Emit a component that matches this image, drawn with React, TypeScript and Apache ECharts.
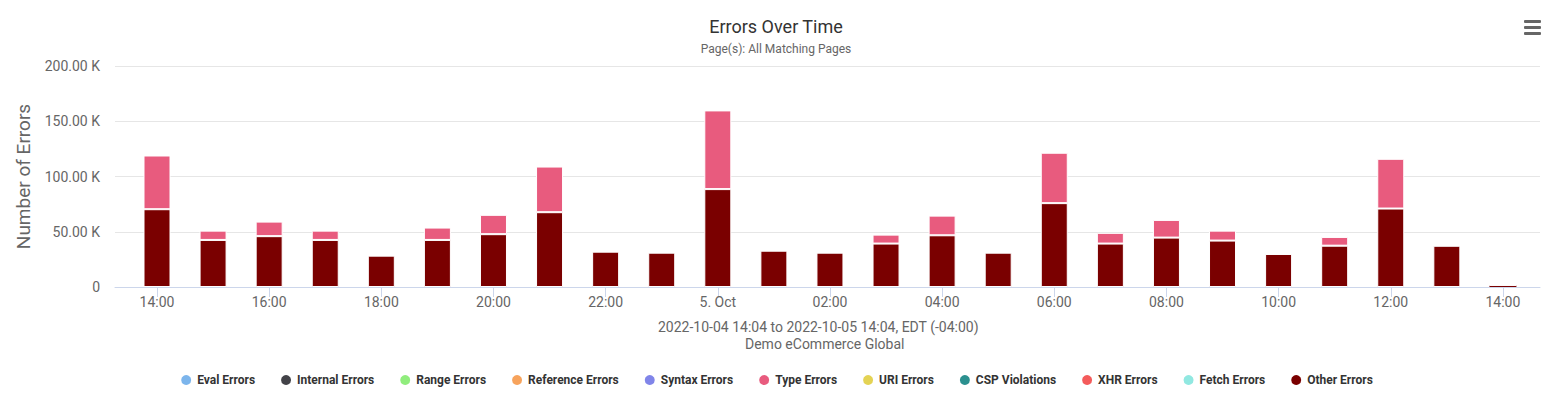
import React, { useEffect, useRef } from "react";
import * as echarts from "echarts";

const hours = [
  "14:00", "15:00", "16:00", "17:00", "18:00", "19:00", "20:00", "21:00", "22:00", "23:00",
  "00:00", "01:00", "02:00", "03:00", "04:00", "05:00", "06:00", "07:00", "08:00", "09:00",
  "10:00", "11:00", "12:00", "13:00", "14:00",
];
const otherErrors = [
  70400, 42600, 46000, 42600, 28400, 42600, 47800, 67700, 32000, 31100,
  88600, 32900, 31100, 39300, 46800, 31100, 75900, 39300, 44700, 42000,
  29900, 37400, 71000, 37400, 1500,
];
const typeErrors = [
  48600, 8400, 13200, 8400, 0, 11200, 17500, 41300, 0, 0,
  71200, 0, 0, 8100, 17800, 0, 45600, 9700, 16000, 9000,
  0, 7900, 45000, 0, 0,
];
const tickLabels = ["14:00", "16:00", "18:00", "20:00", "22:00", "5. Oct", "02:00", "04:00", "06:00", "08:00", "10:00", "12:00", "14:00"];
const legendNames = [
  "Eval Errors", "Internal Errors", "Range Errors", "Reference Errors", "Syntax Errors",
  "Type Errors", "URI Errors", "CSP Violations", "XHR Errors", "Fetch Errors", "Other Errors",
];
const legendColors = [
  "#7cb5ec", "#434348", "#90ed7d", "#f7a35c", "#8085e9",
  "#e85b7e", "#e4d354", "#2b908f", "#f45b5b", "#91e8e1", "#7a0000",
];

export default function App() {
  const ref = useRef<HTMLDivElement>(null);
  useEffect(() => {
    if (!ref.current) return;
    const chart = echarts.init(ref.current, null, { renderer: "svg" });
    const font = "Roboto, sans-serif";
    const colorOf = (n: string) => legendColors[legendNames.indexOf(n)];
    const order = ["Other Errors", "Type Errors", ...legendNames.filter((n) => n !== "Other Errors" && n !== "Type Errors")];
    const toItems = (arr: number[]) =>
      arr.map((v) => (v > 0 && v < 5000 ? { value: v, itemStyle: { borderWidth: 0 } } : v));
    const series = order.map((name) => {
      let data: any[] = [];
      if (name === "Other Errors") data = toItems(otherErrors);
      else if (name === "Type Errors") data = toItems(typeErrors);
      return {
        name,
        type: "bar",
        stack: "total",
        barWidth: 27,
        xAxisIndex: 1,
        yAxisIndex: 1,
        data,
        itemStyle: { color: colorOf(name), borderColor: "#ffffff", borderWidth: 1 },
      };
    });
    const step = 56.08;
    const firstCenter = 157;
    const g1Left = firstCenter - step / 2;
    const g1Right = 1552 - g1Left - step * hours.length;
    chart.setOption({
      animation: false,
      textStyle: { fontFamily: font },
      color: legendColors,
      title: {
        text: "Errors Over Time",
        subtext: "Page(s): All Matching Pages",
        left: "center",
        top: 12,
        itemGap: 8,
        textStyle: { fontFamily: font, fontSize: 18, fontWeight: "normal", color: "#333333" },
        subtextStyle: { fontFamily: font, fontSize: 12, color: "#666666" },
      },
      grid: [
        { left: 115, right: 12, top: 66, bottom: 114 },
        { left: g1Left, right: g1Right, top: 66, bottom: 114 },
      ],
      legend: {
        data: legendNames,
        bottom: 9,
        left: "center",
        icon: "circle",
        itemWidth: 12,
        itemHeight: 12,
        itemGap: 24,
        textStyle: { fontFamily: font, fontSize: 12, fontWeight: "bold", color: "#333333" },
      },
      xAxis: [
        {
          type: "value",
          gridIndex: 0,
          min: 0,
          max: 1,
          splitLine: { show: false },
          axisLine: { show: true, lineStyle: { color: "#ccd6eb" } },
          axisTick: { show: false },
          axisLabel: { show: false },
        },
        {
          type: "category",
          gridIndex: 1,
          data: hours,
          axisLine: { show: false },
          axisTick: { show: true, alignWithLabel: true, interval: 1, length: 10, lineStyle: { color: "#ccd6eb" } },
          axisLabel: {
            interval: 1,
            fontFamily: font,
            fontSize: 14,
            color: "#666666",
            margin: 8,
            formatter: (_v: string, i: number) => tickLabels[i / 2] ?? "",
          },
        },
      ],
      yAxis: [
        {
          type: "value",
          gridIndex: 0,
          min: 0,
          max: 200000,
          interval: 50000,
          name: "Number of Errors",
          nameLocation: "middle",
          nameGap: 82,
          nameTextStyle: { fontFamily: font, fontSize: 19, color: "#666666" },
          axisLine: { show: false },
          axisTick: { show: false },
          splitLine: { lineStyle: { color: "#e6e6e6" } },
          axisLabel: {
            fontFamily: font,
            fontSize: 14,
            color: "#666666",
            margin: 15,
            formatter: (v: number) => (v === 0 ? "0" : (v / 1000).toFixed(2) + " K"),
          },
        },
        {
          type: "value",
          gridIndex: 1,
          min: 0,
          max: 200000,
          interval: 50000,
          show: false,
          splitLine: { show: false },
        },
      ],
      graphic: [
        { type: "text", left: 658, top: 320, style: { text: "2022-10-04 14:04 to 2022-10-05 14:04, EDT (-04:00)", font: `14px ${font}`, fill: "#666666" } },
        { type: "text", left: 745, top: 337, style: { text: "Demo eCommerce Global", font: `14px ${font}`, fill: "#666666" } },
        { type: "rect", shape: { x: 1524, y: 20, width: 17, height: 3, r: 1 }, style: { fill: "#666666" } },
        { type: "rect", shape: { x: 1524, y: 26, width: 17, height: 3, r: 1 }, style: { fill: "#666666" } },
        { type: "rect", shape: { x: 1524, y: 32, width: 17, height: 3, r: 1 }, style: { fill: "#666666" } },
      ],
      series,
    });
    return () => chart.dispose();
  }, []);
  return <div ref={ref} style={{ width: 1552, height: 401, position: "absolute", left: 0, top: 0 }} />;
}
